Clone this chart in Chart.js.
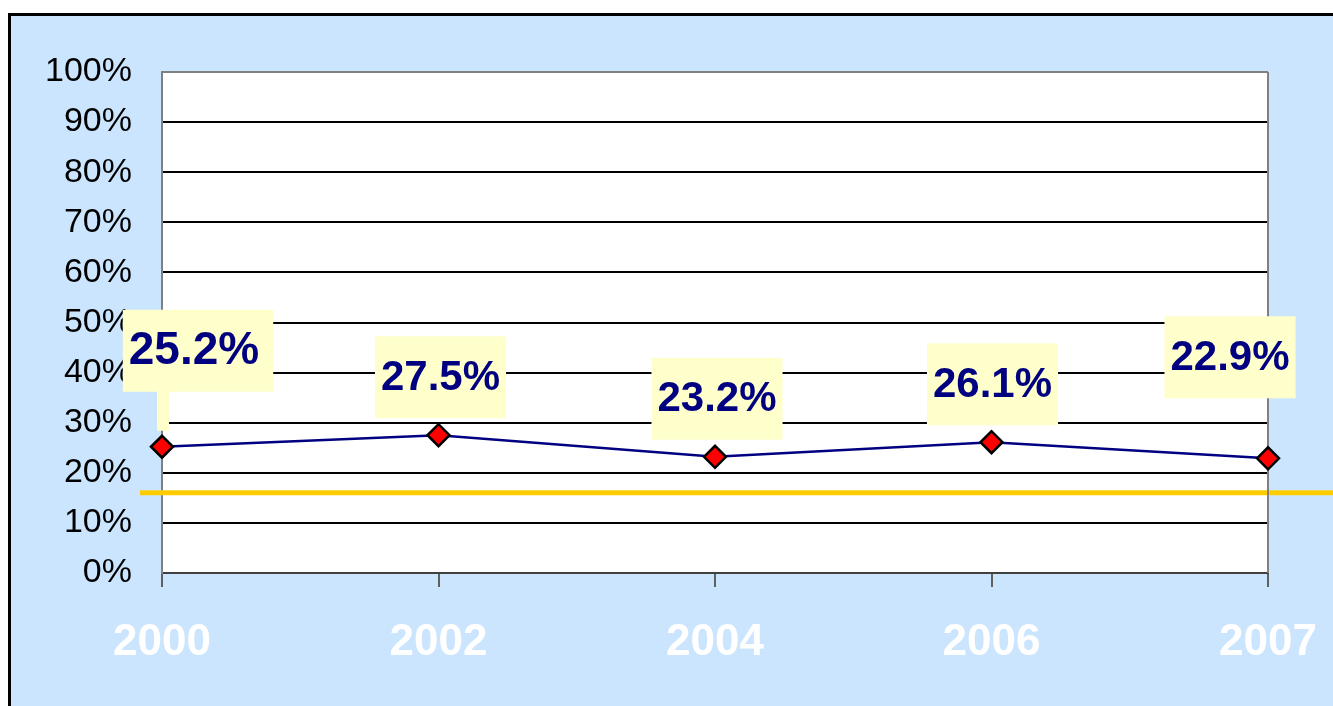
<!DOCTYPE html>
<html>
<head>
<meta charset="utf-8">
<script src="https://cdn.jsdelivr.net/npm/chart.js@4/dist/chart.umd.min.js"></script>
<style>
  body { margin: 0; background: #fff; overflow: hidden; }
  #frame {
    position: absolute; left: 8px; top: 13px; width: 1400px; height: 800px;
    background: #cce5ff; border-left: 3px solid #000; border-top: 3px solid #000;
  }
  #wrap { position: absolute; left: 0; top: 0; width: 1333px; height: 706px; }
</style>
</head>
<body>
<div id="frame"></div>
<div id="wrap"><canvas id="chart"></canvas></div>
<script>
// chart data
const years = ["2000", "2002", "2004", "2006", "2007"];
const shares = [25.2, 27.5, 23.2, 26.1, 22.9];
const benchmark = 16;
const yTicks = [0, 10, 20, 30, 40, 50, 60, 70, 80, 90, 100];

// labels in yellow boxes above each point
const labelBoxes = {
  id: "labelBoxes",
  afterDatasetsDraw(chart, args, opts) {
    const ctx = chart.ctx;
    const points = chart.getDatasetMeta(0).data;
    ctx.save();
    points.forEach((pt, i) => {
      const text = shares[i].toFixed(1) + "%";
      ctx.font = "bold " + opts.sizes[i] + "px 'Liberation Sans', Arial, sans-serif";
      const w = ctx.measureText(text).width + opts.padX[i] * 2;
      const h = 82;
      const cx = pt.x + opts.dx[i];
      const cy = pt.y + opts.dy[i];
      ctx.fillStyle = "#ffffcc";
      ctx.fillRect(cx - w / 2, cy - h / 2, w, h);
      // leader strip for the labels lifted higher
      if (opts.leader[i]) {
        ctx.fillRect(pt.x - 5, cy + h / 2 - 1, 12, pt.y - 16 - (cy + h / 2 - 1));
      }
      ctx.fillStyle = "#000080";
      ctx.textAlign = "center";
      ctx.textBaseline = "middle";
      ctx.fillText(text, cx - opts.textShift[i], cy + 1);
    });
    ctx.restore();
  }
};

// benchmark line running past the plot area
const benchLine = {
  id: "benchLine",
  beforeDatasetsDraw(chart) {
    const ctx = chart.ctx;
    const y = chart.scales.y.getPixelForValue(benchmark);
    ctx.save();
    ctx.strokeStyle = "#ffcc00";
    ctx.lineWidth = 5;
    ctx.beginPath();
    ctx.moveTo(chart.chartArea.left - 22, y);
    ctx.lineTo(chart.width, y);
    ctx.stroke();
    ctx.restore();
  }
};

// gray right edge of the plot area
const plotEdge = {
  id: "plotEdge",
  beforeDatasetsDraw(chart) {
    const ctx = chart.ctx;
    const a = chart.chartArea;
    ctx.save();
    ctx.strokeStyle = "#808080";
    ctx.lineWidth = 2;
    ctx.beginPath();
    ctx.moveTo(a.right, a.top);
    ctx.lineTo(a.right, a.bottom);
    ctx.stroke();
    ctx.restore();
  }
};

// white plot area
const plotFill = {
  id: "plotFill",
  beforeDraw(chart) {
    const a = chart.chartArea;
    chart.ctx.save();
    chart.ctx.fillStyle = "#ffffff";
    chart.ctx.fillRect(a.left, a.top, a.right - a.left, a.bottom - a.top);
    chart.ctx.restore();
  }
};

new Chart(document.getElementById("chart"), {
  type: "line",
  data: {
    labels: years,
    datasets: [{
      data: shares,
      borderColor: "#000080",
      borderWidth: 2.5,
      tension: 0,
      pointStyle: "rectRot",
      pointRadius: 11,
      pointBackgroundColor: "#ff0000",
      pointBorderColor: "#000000",
      pointBorderWidth: 2.5
    }]
  },
  options: {
    responsive: true,
    maintainAspectRatio: false,
    animation: false,
    layout: { padding: { top: 72, right: 65, left: 0, bottom: 0 } },
    plugins: {
      legend: { display: false },
      tooltip: { enabled: false },
      labelBoxes: {
        sizes: [46, 42, 42, 42, 42],
        padX: [10, 6, 6, 6, 6],
        dx: [36, 2, 2, 1, -38],
        dy: [-96, -58, -58, -58, -101],
        textShift: [4, 0, 0, 0, 0],
        leader: [true, false, false, false, false]
      }
    },
    scales: {
      x: {
        offset: false,
        afterFit(scale) {
          scale.height = 133;
          scale.paddingLeft = 0;
          scale.paddingRight = 0;
        },
        grid: {
          drawOnChartArea: false,
          drawTicks: true,
          tickLength: 14,
          color: "#606060",
          lineWidth: 2
        },
        border: { color: "#404040", width: 2 },
        ticks: {
          color: "#ffffff",
          padding: 29,
          font: { family: "'Liberation Sans', Arial, sans-serif", size: 44, weight: "bold" },
          maxRotation: 0,
          autoSkip: false
        }
      },
      y: {
        min: 0,
        max: 100,
        afterFit(scale) {
          scale.width = 162;
          scale.paddingTop = 0;
          scale.paddingBottom = 0;
        },
        afterBuildTicks(scale) { scale.ticks = yTicks.map(v => ({ value: v })); },
        grid: {
          drawTicks: false,
          color: ctx => (ctx.tick && ctx.tick.value === 100 ? "#808080" : "#000000"),
          lineWidth: 2
        },
        border: { color: "#808080", width: 2 },
        ticks: {
          color: "#000000",
          padding: 30,
          font: { family: "'Liberation Sans', Arial, sans-serif", size: 34 },
          callback: v => v + "%"
        }
      }
    }
  },
  plugins: [plotFill, benchLine, plotEdge, labelBoxes]
});
</script>
</body>
</html>
